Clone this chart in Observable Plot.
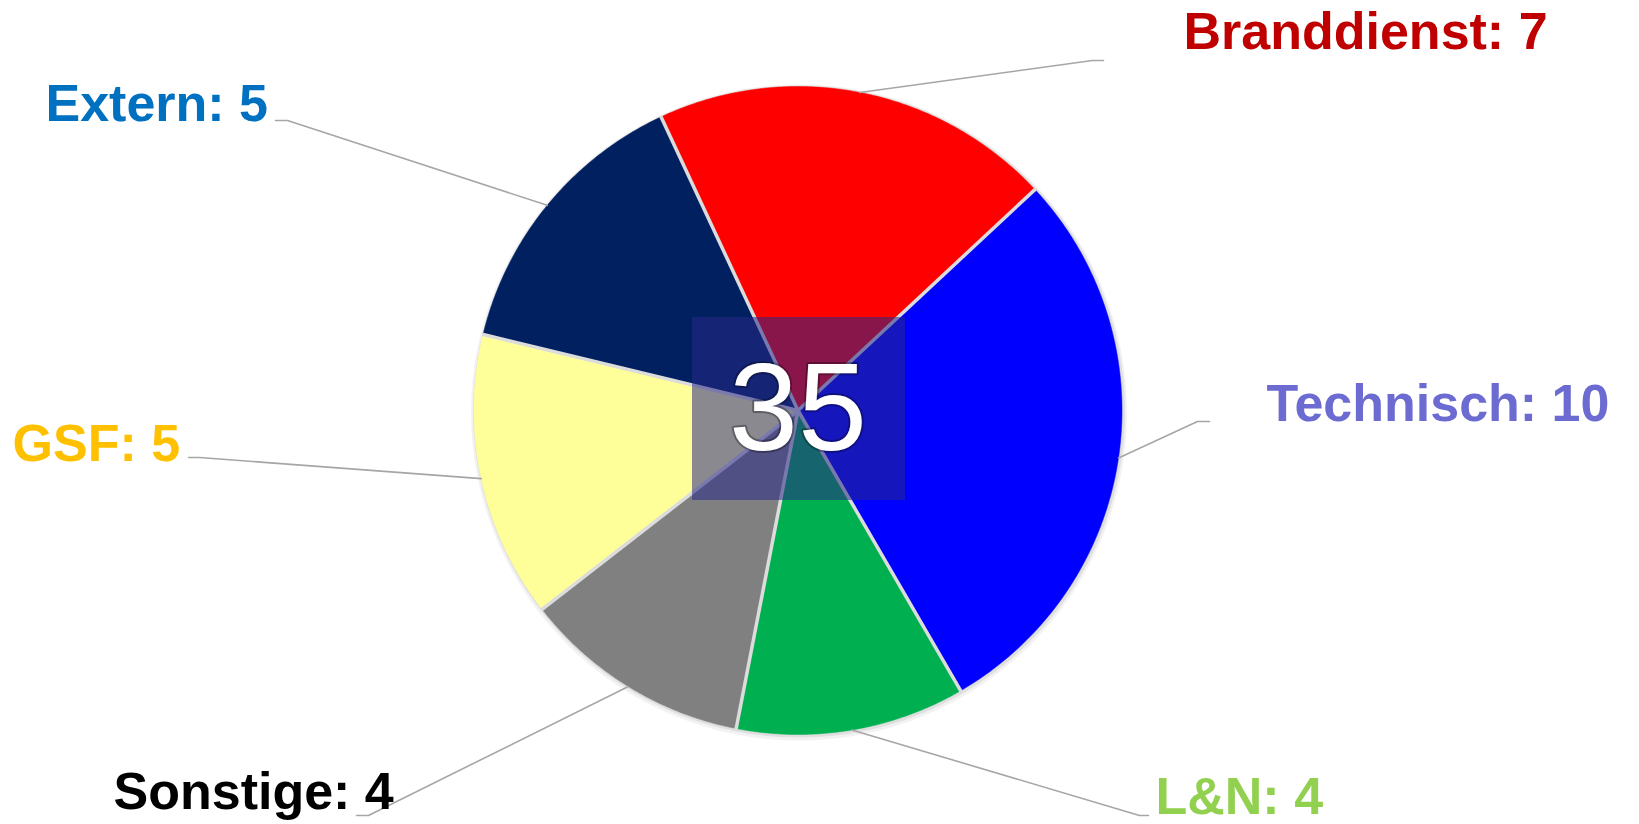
<!DOCTYPE html>
<html>
<head>
<meta charset="utf-8">
<script src="https://cdn.jsdelivr.net/npm/d3@7"></script>
<script src="https://cdn.jsdelivr.net/npm/@observablehq/plot@0.6"></script>
<style>
  html, body { margin: 0; padding: 0; background: #ffffff; }
  #chart svg { display: block; }
</style>
</head>
<body>
<div id="chart"></div>
<script>
// ---- data ----
const categories = ["Branddienst", "Technisch", "L&N", "Sonstige", "GSF", "Extern"];
const values = [7, 10, 4, 4, 5, 5];

// ---- styles ----
const sliceColors = ["#ff0000", "#0000ff", "#00b050", "#808080", "#ffff99", "#002060"];
const labelColors = ["#c00000", "#6b6bd1", "#92d050", "#000000", "#ffc000", "#0070c0"];

// ---- label layout (pixel positions of labels and leader elbows) ----
const labelX = [1183, 1266, 1155, 113, 12, 45];
const labelY = [48, 420, 813, 808, 460, 120];
const elbowX = [1092, 1197, 1139, 368, 199, 287];
const elbowY = [60, 421, 815, 815, 457, 120];
const endX = [1103, 1209, 1148, 356, 188, 275];

const W = 1639, H = 824;
const cx = 797.5, cy = 410, R = 324;
const start = -25 * Math.PI / 180;

const rows = categories.map((c, i) => ({category: c, value: values[i], i}));
const arcs = d3.pie().sort(null).value(d => d.value)
  .startAngle(start).endAngle(start + 2 * Math.PI)(rows);

const px = (a, r) => cx + r * Math.sin(a);
const py = (a, r) => cy - r * Math.cos(a);

// closed outline of each slice: centre, then arc points
const slicePts = arcs.flatMap(a => {
  const n = Math.max(2, Math.ceil((a.endAngle - a.startAngle) / (Math.PI / 360)));
  const pts = [{category: a.data.category, x: cx, y: cy}];
  for (let k = 0; k <= n; k++) {
    const ang = a.startAngle + (a.endAngle - a.startAngle) * k / n;
    pts.push({category: a.data.category, x: px(ang, R), y: py(ang, R)});
  }
  return pts;
});

const leaders = arcs.flatMap(a => {
  const i = a.data.i;
  const mid = (a.startAngle + a.endAngle) / 2;
  return [
    {i, x: px(mid, R), y: py(mid, R)},
    {i, x: elbowX[i], y: elbowY[i]},
    {i, x: endX[i], y: elbowY[i]}
  ];
});

const total = d3.sum(values);
const font = "Liberation Sans, Arial, sans-serif";

const svg = Plot.plot({
  width: W,
  height: H,
  margin: 0,
  style: {background: "#ffffff", overflow: "visible"},
  x: {domain: [0, W], range: [0, W], axis: null},
  y: {domain: [0, H], range: [0, H], axis: null},
  marks: [
    // soft shadow around the pie
    Plot.dot([total], {x: () => cx + 1, y: () => cy + 2, r: R + 4, fill: "#000", fillOpacity: 0.05, stroke: "none"}),
    Plot.dot([total], {x: () => cx + 1, y: () => cy + 1, r: R + 2, fill: "#000", fillOpacity: 0.08, stroke: "none"}),
    ...arcs.map(a => Plot.line(slicePts.filter(p => p.category === a.data.category), {
      x: "x", y: "y",
      fill: sliceColors[a.data.i], stroke: sliceColors[a.data.i], strokeWidth: 0.5,
      curve: "linear-closed"
    })),
    Plot.link(arcs, {
      x1: () => cx, y1: () => cy,
      x2: d => px(d.startAngle, R + 1), y2: d => py(d.startAngle, R + 1),
      stroke: "#dcdcdc", strokeWidth: 3.5, strokeLinecap: "butt"
    }),
    Plot.line(leaders, {
      x: "x", y: "y", z: "i", stroke: "#a6a6a6", strokeWidth: 1.6, curve: "linear"
    }),
    Plot.rect([total], {
      x1: () => 692, x2: () => 905, y1: () => 317, y2: () => 500,
      fill: "rgb(40,40,135)", fillOpacity: 0.55
    }),
    Plot.text([total], {
      x: () => cx, y: () => cy, text: d => String(d),
      fill: "#ffffff", stroke: "#000000", strokeOpacity: 0.3, strokeWidth: 4,
      paintOrder: "stroke", fontSize: 124, fontFamily: font,
      lineAnchor: "middle", textAnchor: "middle"
    }),
    Plot.text(rows, {
      x: d => labelX[d.i], y: d => labelY[d.i],
      text: d => `${d.category}: ${d.value}`,
      fill: d => labelColors[d.i],
      textAnchor: "start", lineAnchor: "bottom",
      fontSize: 52, fontWeight: "bold", fontFamily: font
    })
  ]
});

document.getElementById("chart").appendChild(svg);
</script>
</body>
</html>
